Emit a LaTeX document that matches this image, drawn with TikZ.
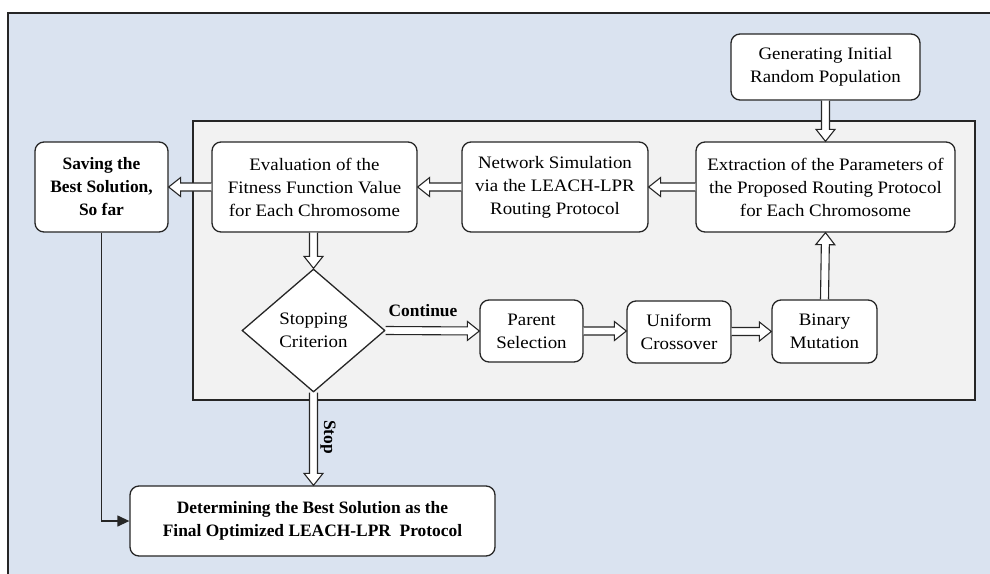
\documentclass[tikz,border=0pt]{standalone}
\usepackage{fontspec}
\setmainfont{Liberation Serif}
\newfontfamily\regf{Liberation Serif}[FakeStretch=1.08]
\usetikzlibrary{arrows.meta,shapes.geometric,calc}
\definecolor{bgblue}{HTML}{DAE3F0}
\definecolor{bggray}{HTML}{F2F2F2}
\definecolor{lc}{HTML}{262626}
\newcommand\harrow[2]{%
  \path (#1) coordinate (hS) (#2) coordinate (hE);
  \path ($(hE)!12pt!(hS)$) coordinate (hB);
  \filldraw[hollowarrow] ($(hS)!4pt!90:(hE)$) -- ($(hB)!4pt!-90:(hS)$) -- ($(hB)!9.5pt!-90:(hS)$) -- (hE) -- ($(hB)!9.5pt!90:(hS)$) -- ($(hB)!4pt!90:(hS)$) -- ($(hS)!4pt!-90:(hE)$);
}
\begin{document}
\begin{tikzpicture}[x=1pt,y=-1pt,
  box/.style={draw=lc, line width=1.3pt, rounded corners=9pt, fill=white, align=center, inner sep=0pt, font=\regf\fontsize{17.5}{23}\selectfont},
  bbox/.style={box, font=\bfseries\fontsize{17.4}{23}\selectfont},
  hollowarrow/.style={draw=lc, fill=white, line width=1.1pt, line join=miter},
  thin/.style={draw=lc, line width=1.3pt, -{Triangle[width=11pt,length=12pt]}},
  lbl/.style={font=\bfseries\fontsize{17.4}{20}\selectfont, inner sep=0pt}
]
\useasboundingbox (0,0) rectangle (990,573);
\clip (0,0) rectangle (990,573);
\fill[white] (0,0) rectangle (990,573);
\draw[lc, line width=1.3pt, fill=bgblue] (8,13) rectangle (1000,590);
\draw[lc, line width=1.3pt, fill=bggray] (193,121) rectangle (975,400);

\node[box, minimum width=189pt, minimum height=66pt] (gen) at (825.5,67) {Generating Initial\\Random Population};
\node[box, minimum width=259pt, minimum height=90pt] (ext) at (825.5,187) {Extraction of the Parameters of\\the Proposed Routing Protocol\\for Each Chromosome};
\node[box, minimum width=186pt, minimum height=90pt] (net) at (555,187) {Network Simulation\\via the LEACH-LPR\\Routing Protocol};
\node[box, minimum width=205pt, minimum height=90pt] (eval) at (314.5,187) {Evaluation of the\\Fitness Function Value\\for Each Chromosome};
\node[bbox, minimum width=133pt, minimum height=90pt] (save) at (101.5,187) {Saving the\\Best Solution,\\So far};
\node[draw=lc, line width=1.3pt, fill=white, diamond, aspect=1.16, inner sep=0pt, minimum width=143pt, minimum height=123pt, align=center, font=\regf\fontsize{17.5}{23}\selectfont] (stop) at (313.5,330.5) {Stopping\\Criterion};
\node[box, minimum width=103pt, minimum height=62pt] (par) at (531.5,331) {Parent\\Selection};
\node[box, minimum width=104pt, minimum height=62pt] (uni) at (679,332) {Uniform\\Crossover};
\node[box, minimum width=105pt, minimum height=63pt] (bin) at (824.5,331.5) {Binary\\Mutation};
\node[bbox, minimum width=365pt, minimum height=70pt] (fin) at (312.5,521) {Determining the Best Solution as the\\Final Optimized LEACH-LPR\ \ Protocol};

\harrow{gen.south}{ext.north}
\harrow{ext.west}{net.east}
\harrow{net.west}{eval.east}
\harrow{eval.west}{save.east}
\harrow{eval.south -| stop.north}{stop.north}
\harrow{stop.east}{par.west}
\harrow{par.east}{par.east -| uni.west}
\harrow{uni.east |- bin.west}{bin.west}
\harrow{bin.north}{ext.south}
\harrow{stop.south}{fin.north -| stop.south}
\draw[thin] (save.south) |- (fin.west);

\node[lbl] (cont) at (423,311) {Continue};
\node[lbl, rotate=-90] (stp) at (328,437) {Stop};
\end{tikzpicture}
\end{document}
